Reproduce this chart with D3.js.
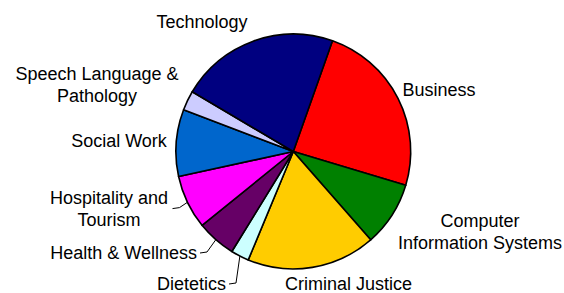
<!DOCTYPE html>
<html><head><meta charset="utf-8">
<script src="https://cdn.jsdelivr.net/npm/d3@7"></script>
<style>body{margin:0;background:#fff}svg{display:block}text{font-family:"Liberation Sans",Arial,sans-serif;font-size:18px;fill:#000}</style>
</head><body><svg id="c" width="564" height="293"></svg>
<script>
const categories = ["Business","Computer Information Systems","Criminal Justice","Dietetics","Health & Wellness","Hospitality and Tourism","Social Work","Speech Language & Pathology","Technology"];
const values = [24.2, 8.9, 17.7, 2.5, 5.4, 7.4, 9.2, 2.7, 21.9];
const colors = ["#FF0000","#008000","#FFCC00","#CCFFFF","#660066","#FF00FF","#0066CC","#CCCCFF","#000080"];
const labelLines = [["Business"],["Computer","Information Systems"],["Criminal Justice"],["Dietetics"],["Health & Wellness"],["Hospitality and","Tourism"],["Social Work"],["Speech Language &","Pathology"],["Technology"]];

// layout (positions of label blocks: x, first baseline, anchor, leader)
const labelLayout = [
  {x:439, y:96, a:"middle"},
  {x:480, y:226.5, a:"middle"},
  {x:348.5, y:290, a:"middle"},
  {x:226, y:289.5, a:"end", leader:true},
  {x:197, y:258.5, a:"end", leader:true},
  {x:109, y:203.5, a:"middle", leader:true, lx:172.5},
  {x:119, y:146.5, a:"middle"},
  {x:97, y:80, a:"middle"},
  {x:202, y:28.3, a:"middle"}
];
const lineH = 22.2;
const cx = 293.3, cy = 151.5, R = 117.4;

const svg = d3.select("#c");
const g = svg.append("g").attr("transform", `translate(${cx},${cy})`);
const pie = d3.pie().sort(null).value(d => d).startAngle(19.5*Math.PI/180).endAngle(19.5*Math.PI/180 + 2*Math.PI);
const arcs = pie(values);
const arc = d3.arc().innerRadius(0).outerRadius(R);
g.selectAll("path.s").data(arcs).join("path").attr("class","s")
  .attr("d", arc).attr("fill", (d,i) => colors[i])
  .attr("stroke", "#000").attr("stroke-width", 1.6).attr("stroke-linejoin","round");

// labels
arcs.forEach((d, i) => {
  const L = labelLayout[i];
  const t = svg.append("text").attr("text-anchor", L.a);
  labelLines[i].forEach((ln, k) => {
    t.append("tspan").attr("x", L.x).attr("y", L.y + k*lineH).text(ln);
  });
  if (L.leader) {
    const mid = (d.startAngle + d.endAngle)/2;
    const ex = cx + R*Math.sin(mid), ey = cy - R*Math.cos(mid);
    const n = labelLines[i].length;
    const my = L.y - 5.5 + (n-1)*lineH/2 + (n>1? -0.5:0);
    let x0 = (L.lx !== undefined) ? L.lx : L.x + 3;
    const x1 = x0 + 7;
    svg.append("path").attr("d", `M${x0},${my}L${x1},${my - 1}L${ex},${ey}`)
      .attr("fill","none").attr("stroke","#000").attr("stroke-width",1);
  }
});
</script></body></html>
